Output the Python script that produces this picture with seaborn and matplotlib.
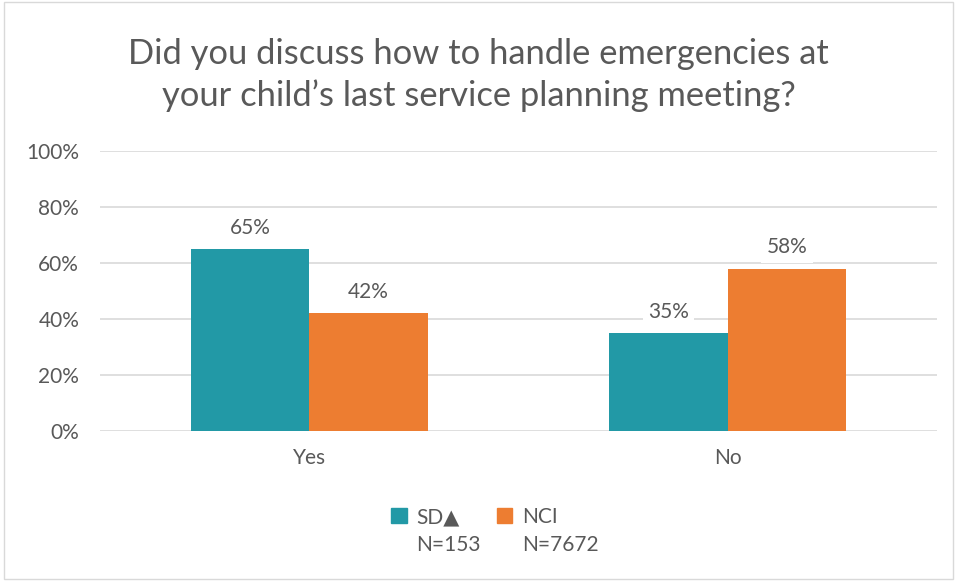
import matplotlib
matplotlib.use("Agg")
import matplotlib.pyplot as plt
import seaborn as sns
import pandas as pd
from matplotlib.patches import Rectangle

categories = ["Yes", "No"]
series = ["SD", "NCI"]
sd_values = [65, 35]
nci_values = [42, 58]
legend_labels = ["SD\u25B2", "NCI"]
legend_n = ["N=153", "N=7672"]
yticks = [0, 20, 40, 60, 80, 100]
title = "Did you discuss how to handle emergencies at\nyour child\u2019s last service planning meeting?"

colors = ["#2299A6", "#ED7D31"]
text_color = "#595959"
fs = 15

df = pd.DataFrame({
    "cat": categories * 2,
    "series": [series[0]] * len(categories) + [series[1]] * len(categories),
    "val": sd_values + nci_values,
})

sns.set_theme(style="white")
plt.rcParams["font.family"] = ["Lato", "DejaVu Sans"]

fig = plt.figure(figsize=(9.57, 5.81), dpi=100)
ax = fig.add_axes([100 / 957, 1 - 431 / 581, 837 / 957, 280 / 581])

sns.barplot(data=df, x="cat", y="val", hue="series", palette=colors,
            width=0.567, ax=ax, legend=False, saturation=1, zorder=3,
            linewidth=0, edgecolor="none")

ax.set_ylim(0, 100)
ax.set_xlim(-0.5, 1.5)
ax.set_yticks(yticks)
ax.set_yticklabels([f"{t}%" for t in yticks], fontsize=fs, color=text_color)
ax.tick_params(axis="x", labelsize=fs, colors=text_color, length=0, pad=12)
ax.tick_params(axis="y", length=0, pad=15)
ax.set_xlabel("")
ax.set_ylabel("")
for s in ax.spines.values():
    s.set_visible(False)
ax.grid(axis="y", color="#D9D9D9", linewidth=1.2, zorder=0)
ax.set_axisbelow(True)

for cont in ax.containers:
    for bar in cont:
        h = bar.get_height()
        ax.annotate(f"{h:.0f}%", (bar.get_x() + bar.get_width() / 2, h),
                    xytext=(0, 8), textcoords="offset points",
                    ha="center", va="bottom", fontsize=fs, color=text_color,
                    bbox=dict(boxstyle="square,pad=0.25", fc="white", ec="none"),
                    zorder=4)

fig.text(0.5, 1 - 75 / 581, title, ha="center", va="center", fontsize=24.8,
         color=text_color, linespacing=1.35)

# legend
handles = [Rectangle((0, 0), 1, 1, color=c) for c in colors]
leg = fig.legend(handles, legend_labels, loc="center left", ncol=2,
                 bbox_to_anchor=(391 / 957, 1 - 517 / 581), frameon=False,
                 fontsize=fs, handlelength=0.75, handleheight=0.75,
                 columnspacing=1.8, handletextpad=0.45, borderaxespad=0,
                 borderpad=0)
for t in leg.get_texts():
    t.set_color(text_color)

fig.canvas.draw()
renderer = fig.canvas.get_renderer()
inv = fig.transFigure.inverted()
for t, n in zip(leg.get_texts(), legend_n):
    bb = t.get_window_extent(renderer)
    x0, _ = inv.transform((bb.x0, bb.y0))
    fig.text(x0, 1 - 545 / 581, n, ha="left", va="center", fontsize=fs,
             color=text_color)

fig.patches.append(Rectangle((0.004, 0.004), 0.992, 0.992, transform=fig.transFigure,
                             fill=False, ec="#D9D9D9", lw=1))
fig.savefig("out.png", dpi=100, facecolor="white")
